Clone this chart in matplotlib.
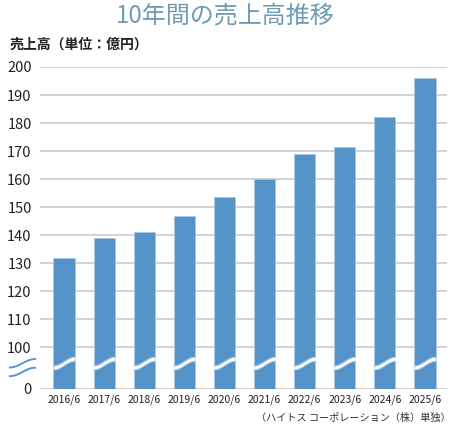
import numpy as np
import matplotlib
matplotlib.use("Agg")
import matplotlib.pyplot as plt

plt.rcParams['font.family'] = ['Noto Sans CJK JP', 'DejaVu Sans']

years = ["2016/6", "2017/6", "2018/6", "2019/6", "2020/6",
         "2021/6", "2022/6", "2023/6", "2024/6", "2025/6"]
sales = [132, 139, 141, 147, 153.5, 160, 169, 171.5, 182, 196]
yticks = [0, 100, 110, 120, 130, 140, 150, 160, 170, 180, 190, 200]

title = "10年間の売上高推移"
ylabel = "売上高（単位：億円）"
note = "（ハイトス コーポレーション（株）単独）"

bar_color = "#5592c8"
grid_color = "#cccccc"

# broken axis: 0-100 squeezed into a short gap
GAP = 1.49


def fwd(v):
    v = np.asarray(v, dtype=float)
    return np.where(v < 100, v * GAP / 100, (v - 100) / 10 + GAP)


def inv(p):
    p = np.asarray(p, dtype=float)
    return np.where(p < GAP, p * 100 / GAP, (p - GAP) * 10 + 100)


fig = plt.figure(figsize=(4.5, 4.29), dpi=100)
ax = fig.add_axes([40 / 450, 1 - 389 / 429, 407 / 450, 322 / 429])
ax.set_yscale("function", functions=(fwd, inv))

x = np.arange(len(years))
bw = 0.53
ax.bar(x, sales, width=bw, color=bar_color, edgecolor="#a9c9e8",
       linewidth=0.5, zorder=3)

ax.set_ylim(0, 200)
ax.set_xlim(-0.6, len(years) - 0.45)
ax.set_yticks(yticks)
ax.set_yticklabels([str(t) for t in yticks], fontsize=10.5, color="#222222")
ax.set_xticks(x)
ax.set_xticklabels(years, fontsize=7.5, color="#222222")
ax.tick_params(axis="both", length=0)
ax.tick_params(axis="y", pad=6)
ax.tick_params(axis="x", pad=4)
ax.grid(axis="y", color=grid_color, linewidth=1.2, zorder=0)
for s in ax.spines.values():
    s.set_visible(False)

# wave break across each bar (axes-fraction y)
trans = ax.get_xaxis_transform()
t = np.linspace(0, 1, 60)
s_curve = (1 - np.cos(np.pi * t)) / 2
for xi in x:
    xs = xi - bw / 2 + t * bw
    mid = 0.066 + 0.027 * s_curve
    lo = mid - 0.006
    hi = mid + 0.006
    ax.fill_between(xs, lo, hi, color="white", transform=trans, zorder=4,
                    linewidth=0)
    ax.plot(xs, lo, color="#b7d3ee", lw=0.6, transform=trans, zorder=5)
    ax.plot(xs, hi, color="#b7d3ee", lw=0.6, transform=trans, zorder=5)

# squiggle on the axis
tx = np.linspace(-0.074, -0.012, 60)
for base in (0.040, 0.067):
    ax.plot(tx, base + 0.026 * s_curve, color="#5b95cb", lw=1.4,
            transform=ax.transAxes, clip_on=False, zorder=5)

fig.text(0.5, 0.963, title, ha="center", va="center", fontsize=17.3,
         color="#6f9bb5")
fig.text(10 / 450, 0.895, ylabel, ha="left", va="center", fontsize=10,
         fontweight="bold", color="#222222")
fig.text(451 / 450, 1 - 418 / 429, note, ha="right", va="center",
         fontsize=7.3, color="#333333")

fig.savefig("out.png", dpi=100)
